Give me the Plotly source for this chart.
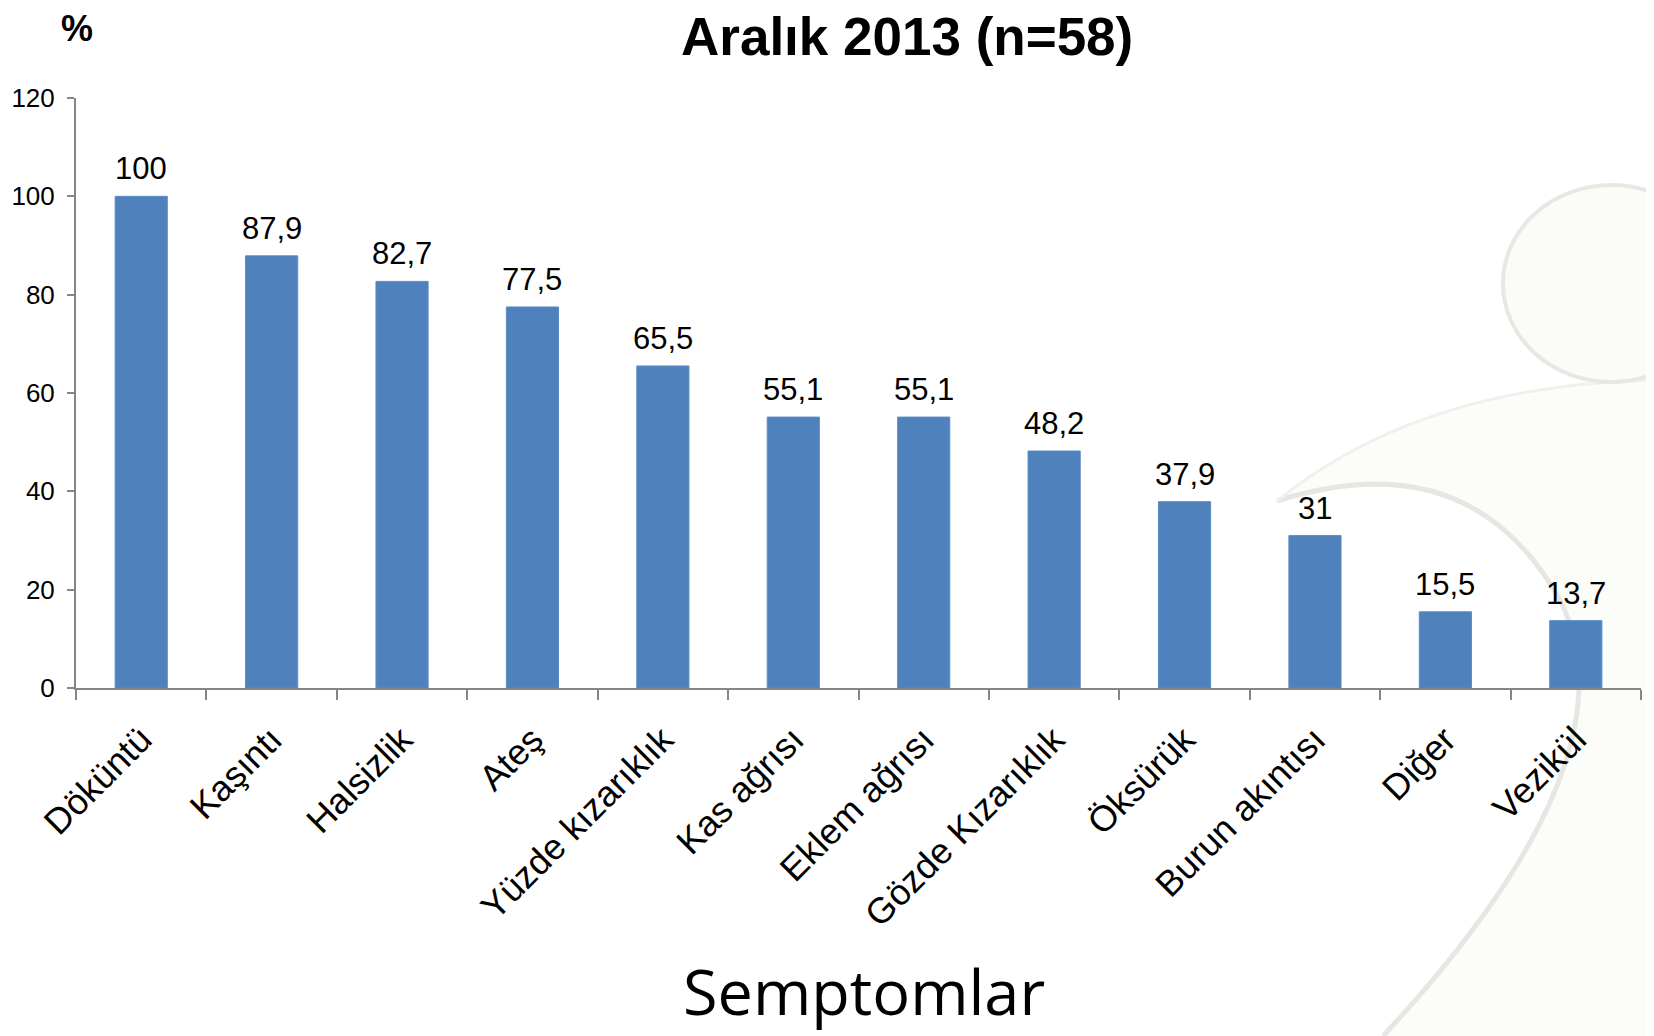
import plotly.graph_objects as go

categories = ["Döküntü", "Kaşıntı", "Halsizlik", "Ateş", "Yüzde kızarıklık", "Kas ağrısı",
              "Eklem ağrısı", "Gözde Kızarıklık", "Öksürük", "Burun akıntısı", "Diğer", "Vezikül"]
values = [100, 87.9, 82.7, 77.5, 65.5, 55.1, 55.1, 48.2, 37.9, 31, 15.5, 13.7]
y_ticks = [0, 20, 40, 60, 80, 100, 120]

labels = [("%g" % v).replace(".", ",") for v in values]

W, H = 1654, 1036
OFF = 8  # page body margin
# target page pixels: plot x from 76 to 1641, y from 98 to 688
L = 76 - OFF
R = W - (1641 - OFF)
T = 98 - OFF
B = H - (688 - OFF)
PW = W - L - R
PH = H - T - B


def px(xp):
    return (xp - OFF - L) / PW


def py(yp):
    return (H - B - (yp - OFF)) / PH


fig = go.Figure()
fig.add_trace(go.Bar(
    x=categories, y=values,
    marker=dict(color="#4F81BD", line=dict(color="#5B8CC6", width=1)),
    hoverinfo="x+y",
))

for c, v, t in zip(categories, values, labels):
    fig.add_annotation(x=c, y=v, text=t, showarrow=False, xanchor="center", yanchor="bottom",
                       yshift=8, font=dict(family="Liberation Sans, Arial", size=31, color="#000000"))

# faint watermark decoration
fig.add_shape(type="path", xref="paper", yref="paper",
              path=(f"M {px(1277)} {py(501)} Q {px(1420)} {py(385)} {px(1654)} {py(380)} "
                    f"L {px(1654)} {py(1036)} L {px(1383)} {py(1036)} "
                    f"Q {px(1640)} {py(760)} {px(1560)} {py(600)} "
                    f"Q {px(1470)} {py(440)} {px(1277)} {py(501)} Z"),
              fillcolor="#FCFCF9", line=dict(width=0), layer="below")
fig.add_shape(type="path", xref="paper", yref="paper",
              path=(f"M {px(1277)} {py(501)} Q {px(1470)} {py(440)} {px(1560)} {py(600)} "
                    f"Q {px(1640)} {py(760)} {px(1383)} {py(1036)}"),
              line=dict(color="#E6E6E2", width=5), layer="below")
fig.add_shape(type="path", xref="paper", yref="paper",
              path=(f"M {px(1277)} {py(501)} Q {px(1420)} {py(385)} {px(1654)} {py(380)}"),
              line=dict(color="#F0F0EC", width=3), layer="below")
fig.add_shape(type="circle", xref="paper", yref="paper",
              x0=px(1503), x1=px(1720), y0=py(382), y1=py(185),
              fillcolor="#FBFBF8", line=dict(color="#E8E8E3", width=4), layer="below")

fig.add_annotation(text="<b>Aralık 2013 (n=58)</b>", xref="paper", yref="paper",
                   x=px(907), y=py(37), xanchor="center", yanchor="middle", showarrow=False,
                   font=dict(family="Liberation Sans, Arial", size=53, color="#000000"))
fig.add_annotation(text="<b>%</b>", xref="paper", yref="paper",
                   x=px(77), y=py(28), xanchor="center", yanchor="middle", showarrow=False,
                   font=dict(family="Liberation Sans, Arial", size=36, color="#000000"))
fig.add_annotation(text="Semptomlar", xref="paper", yref="paper",
                   x=px(864), y=py(990), xanchor="center", yanchor="middle", showarrow=False,
                   font=dict(family="Open Sans", size=63, color="#000000"))

fig.update_layout(
    width=W, height=H,
    margin=dict(l=L, r=R, t=T, b=B, autoexpand=False),
    paper_bgcolor="#FFFFFF", plot_bgcolor="rgba(0,0,0,0)",
    bargap=0.6, showlegend=False,
    font=dict(family="Liberation Sans, Arial", color="#000000"),
)
fig.update_xaxes(
    tickangle=-45, tickfont=dict(size=36), showline=True, linecolor="#868686", linewidth=2,
    ticks="outside", tickson="boundaries", ticklen=10, tickcolor="#868686", tickwidth=2,
    showgrid=False, range=[-0.5, 11.5], ticklabelstandoff=14,
)
fig.update_yaxes(
    range=[0, 120], tickvals=y_ticks, tickfont=dict(size=26), showline=True,
    linecolor="#868686", linewidth=2, ticks="outside", ticklen=7, tickcolor="#868686",
    tickwidth=2, showgrid=False, zeroline=False, ticklabelstandoff=7,
)

fig.write_html("out.html")
